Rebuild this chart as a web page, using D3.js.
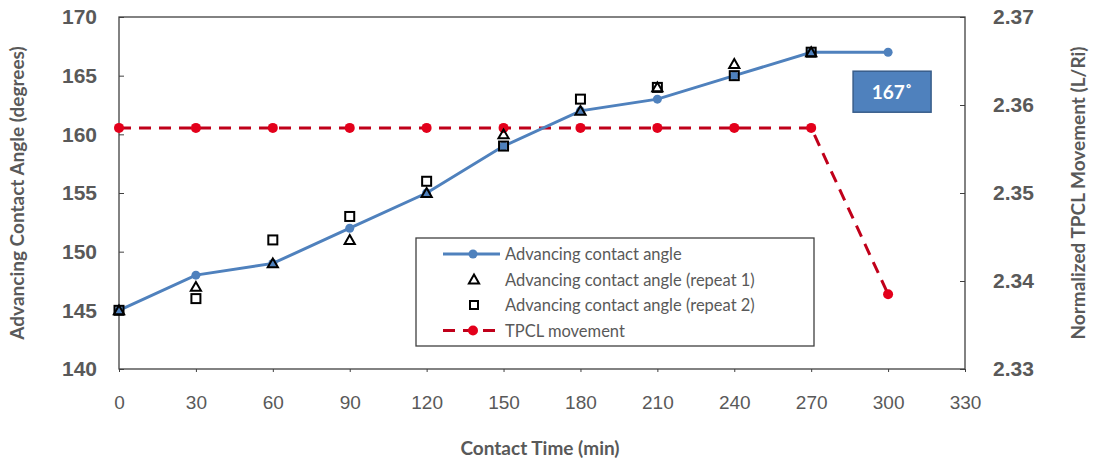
<!DOCTYPE html>
<html>
<head>
<meta charset="utf-8">
<style>
  body { margin: 0; padding: 0; background: #fff; }
  svg { font-family: Lato, "Open Sans", sans-serif; }
  .tick text { fill: #595959; }
</style>
<script src="https://cdnjs.cloudflare.com/ajax/libs/d3/7.8.5/d3.min.js"></script>
</head>
<body>
<svg width="1094" height="464"></svg>
<script>
  // data
  const times = [0, 30, 60, 90, 120, 150, 180, 210, 240, 270, 300];
  const angle = [145, 148, 149, 152, 155, 159, 162, 163, 165, 167, 167];
  const repeat1 = [145, 147, 149, 151, 155, 160, 162, 164, 166, 167];
  const repeat2 = [145, 146, 151, 153, 156, 159, 163, 164, 165, 167];
  const tpcl = [2.3574, 2.3574, 2.3574, 2.3574, 2.3574, 2.3574, 2.3574, 2.3574, 2.3574, 2.3574, 2.3385];
  const xTicks = d3.range(0, 331, 30);
  const yTicks = [140, 145, 150, 155, 160, 165, 170];
  const y2Ticks = [2.33, 2.34, 2.35, 2.36, 2.37];
  const legendLabels = ['Advancing contact angle', 'Advancing contact angle (repeat 1)',
    'Advancing contact angle (repeat 2)', 'TPCL movement'];

  const svg = d3.select('svg');
  const pLeft = 119, pRight = 965, pTop = 17, pBottom = 369;

  const x = d3.scaleLinear().domain([0, 330]).range([pLeft, pRight]);
  const y = d3.scaleLinear().domain([140, 170]).range([pBottom, pTop]);
  const y2 = d3.scaleLinear().domain([2.33, 2.37]).range([pBottom, pTop]);

  const blue = '#4f81bd', red = '#c0001a', dot = '#e3001b', grey = '#595959';

  // frame
  svg.append('rect')
    .attr('x', pLeft).attr('y', pTop)
    .attr('width', pRight - pLeft).attr('height', pBottom - pTop)
    .attr('fill', 'none').attr('stroke', '#404040').attr('stroke-width', 1.3);

  // axes
  const gx = svg.append('g').attr('transform', `translate(0,${pBottom})`)
    .call(d3.axisBottom(x).tickValues(xTicks).tickSize(3).tickPadding(24));
  const gy = svg.append('g').attr('transform', `translate(${pLeft},0)`)
    .call(d3.axisRight(y).tickValues(yTicks).tickSize(5).tickFormat(d3.format('d')));
  gy.selectAll('.tick text').attr('x', -22).attr('text-anchor', 'end');
  const gy2 = svg.append('g').attr('transform', `translate(${pRight},0)`)
    .call(d3.axisLeft(y2).tickValues(y2Ticks).tickSize(5).tickFormat(d3.format('.2f')));
  gy2.selectAll('.tick text').attr('x', 28).attr('text-anchor', 'start');

  [gx, gy, gy2].forEach(g => {
    g.select('.domain').remove();
    g.selectAll('.tick line').attr('stroke', '#404040');
    g.selectAll('.tick text').attr('font-size', 21).attr('font-weight', 'bold');
  });
  gx.selectAll('.tick text').attr('font-weight', 'normal').attr('font-size', 19);

  // axis titles
  svg.append('text').attr('x', 540).attr('y', 455).attr('text-anchor', 'middle')
    .attr('font-size', 19).attr('font-weight', 'bold').attr('fill', grey)
    .text('Contact Time (min)');
  svg.append('text').attr('transform', 'translate(24,193) rotate(-90)').attr('text-anchor', 'middle')
    .attr('font-size', 19).attr('font-weight', 'bold').attr('fill', grey)
    .text('Advancing Contact Angle (degrees)');
  svg.append('text').attr('transform', 'translate(1085,193) rotate(-90)').attr('text-anchor', 'middle')
    .attr('font-size', 19).attr('font-weight', 'bold').attr('fill', grey)
    .text('Normalized TPCL Movement (L/Ri)');

  // TPCL series
  const tpclPts = times.map((t, i) => [t, tpcl[i]]);
  svg.append('path').datum(tpclPts)
    .attr('fill', 'none').attr('stroke', red).attr('stroke-width', 3)
    .attr('stroke-dasharray', '12,8')
    .attr('d', d3.line().x(d => x(d[0])).y(d => y2(d[1])));
  svg.selectAll('.tp').data(tpclPts).enter().append('circle')
    .attr('cx', d => x(d[0])).attr('cy', d => y2(d[1])).attr('r', 5).attr('fill', dot);

  // main series
  const angPts = times.map((t, i) => [t, angle[i]]);
  svg.append('path').datum(angPts)
    .attr('fill', 'none').attr('stroke', blue).attr('stroke-width', 3)
    .attr('d', d3.line().x(d => x(d[0])).y(d => y(d[1])));
  svg.selectAll('.ap').data(angPts).enter().append('circle')
    .attr('cx', d => x(d[0])).attr('cy', d => y(d[1])).attr('r', 4.5).attr('fill', blue);

  // repeats
  const tri = d3.symbol().type(d3.symbolTriangle).size(45);
  svg.selectAll('.r1').data(repeat1).enter().append('path')
    .attr('d', tri)
    .attr('transform', (d, i) => `translate(${x(times[i])},${y(d) + 1})`)
    .attr('fill', 'none').attr('stroke', '#000').attr('stroke-width', 2);
  svg.selectAll('.r2').data(repeat2).enter().append('rect')
    .attr('x', (d, i) => x(times[i]) - 4.5).attr('y', d => y(d) - 4.5)
    .attr('width', 9).attr('height', 9)
    .attr('fill', 'none').attr('stroke', '#000').attr('stroke-width', 2);

  // data label
  const lbl = svg.append('g').attr('transform', `translate(${x(300) - 35},${y(167) + 19})`);
  lbl.append('rect').attr('width', 78).attr('height', 41)
    .attr('fill', blue).attr('stroke', '#385d8a').attr('stroke-width', 1.5);
  lbl.append('text').attr('x', 39).attr('y', 28).attr('text-anchor', 'middle')
    .attr('fill', '#fff').attr('font-size', 19).attr('font-weight', 'bold')
    .text('167˚');

  // legend
  const lg = svg.append('g').attr('transform', 'translate(416,238)');
  lg.append('rect').attr('width', 398).attr('height', 108)
    .attr('fill', '#fff').attr('stroke', '#404040').attr('stroke-width', 1.3);
  legendLabels.forEach((t, i) => {
    const cy = 16 + i * 25.5;
    const row = lg.append('g').attr('transform', `translate(0,${cy})`);
    if (i === 0) {
      row.append('line').attr('x1', 27).attr('x2', 84).attr('stroke', blue).attr('stroke-width', 3);
      row.append('circle').attr('cx', 57).attr('r', 4.5).attr('fill', blue);
    } else if (i === 1) {
      row.append('path').attr('d', tri).attr('transform', 'translate(58,1)')
        .attr('fill', 'none').attr('stroke', '#000').attr('stroke-width', 2);
    } else if (i === 2) {
      row.append('rect').attr('x', 54).attr('y', -4).attr('width', 8).attr('height', 8)
        .attr('fill', 'none').attr('stroke', '#000').attr('stroke-width', 2);
    } else {
      row.append('line').attr('x1', 27).attr('x2', 86).attr('stroke', red).attr('stroke-width', 3)
        .attr('stroke-dasharray', '12,8');
      row.append('circle').attr('cx', 57).attr('r', 5).attr('fill', dot);
    }
    row.append('text').attr('x', 89).attr('y', 6).attr('font-size', 16.5)
      .attr('fill', grey).text(t);
  });
</script>
</body>
</html>
